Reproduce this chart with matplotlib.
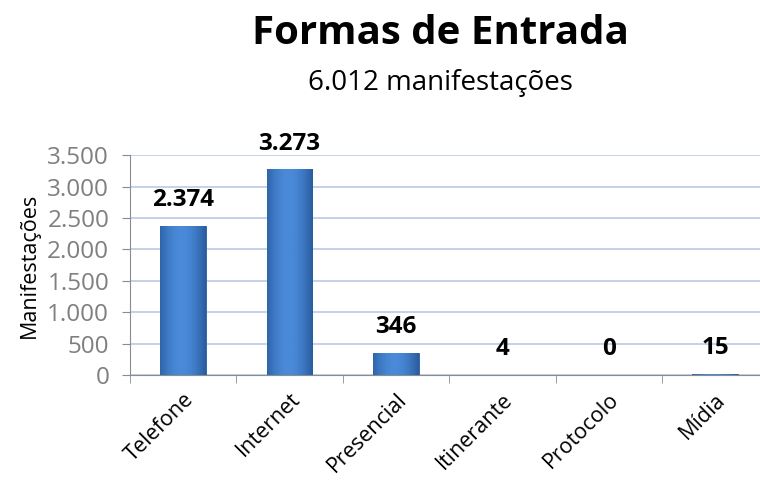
import numpy as np
import matplotlib.pyplot as plt
from matplotlib.ticker import FuncFormatter
from matplotlib.colors import LinearSegmentedColormap

# ================= DATA =================
categorias = ["Telefone", "Internet", "Presencial", "Itinerante", "Protocolo", "Mídia"]
valores = [2374, 3273, 346, 4, 0, 15]
titulo = "Formas de Entrada"
subtitulo = "6.012 manifestações"

plt.rcParams["font.family"] = ["Open Sans", "DejaVu Sans"]

fig = plt.figure(figsize=(7.6, 4.84), dpi=100)
ax = fig.add_axes([0.171, 0.225, 0.84, 0.4545])

x = np.arange(len(categorias))
bars = ax.bar(x, valores, width=0.43, color="#3b78c4", edgecolor="#2c5a95", linewidth=0.6, zorder=3)

# horizontal gradient on each bar (cylinder look)
grad = np.linspace(0, 1, 64)
shade = 0.55 + 0.45 * np.sin(np.pi * (grad * 0.85 + 0.1))
img = np.tile(shade, (2, 1))
cmap = LinearSegmentedColormap.from_list("b", ["#1f4f8f", "#4a8ad8"])
for b in bars:
    h = b.get_height()
    if h <= 0:
        continue
    im = ax.imshow(img, extent=[b.get_x(), b.get_x() + b.get_width(), 0, h],
                   aspect="auto", cmap=cmap, vmin=0.5, vmax=1.0, zorder=3.5)
    im.set_clip_path(b)

for b, v in zip(bars, valores):
    ax.annotate(f"{v:,}".replace(",", "."), (b.get_x() + b.get_width() / 2, v),
                xytext=(0, 10), textcoords="offset points", ha="center", va="bottom",
                fontsize=17.5, fontweight="bold", color="black", zorder=5)

ax.set_xlim(-0.5, len(categorias) - 0.5)
ax.set_ylim(0, 3500)
ax.set_yticks(np.arange(0, 3501, 500))
ax.yaxis.set_major_formatter(FuncFormatter(lambda v, p: f"{int(v):,}".replace(",", ".")))
ax.grid(axis="y", color="#b9c9e6", linewidth=1.2, zorder=0)
ax.set_axisbelow(True)

ax.set_xticks(x)
ax.set_xticklabels(categorias, rotation=45, ha="right", rotation_mode="anchor", fontsize=15.5)
ax.set_xticks(np.arange(len(categorias) + 1) - 0.5, minor=True)
ax.tick_params(axis="x", which="major", length=0, pad=10)
ax.tick_params(axis="x", which="minor", length=6, color="#8c8c8c")
ax.tick_params(axis="y", length=6, color="#8c8c8c", labelsize=17.5, labelcolor="#7f7f7f", pad=9)

for s in ["top", "right"]:
    ax.spines[s].set_visible(False)
ax.spines["left"].set_color("#8c8c8c")
ax.spines["bottom"].set_color("#8c8c8c")

ax.set_ylabel("Manifestações", fontsize=15.5, labelpad=5)

fig.text(0.58, 0.93, titulo, ha="center", va="center", fontsize=29, fontweight="bold")
fig.text(0.58, 0.828, subtitulo, ha="center", va="center", fontsize=20)

plt.savefig("out.png", dpi=100)
